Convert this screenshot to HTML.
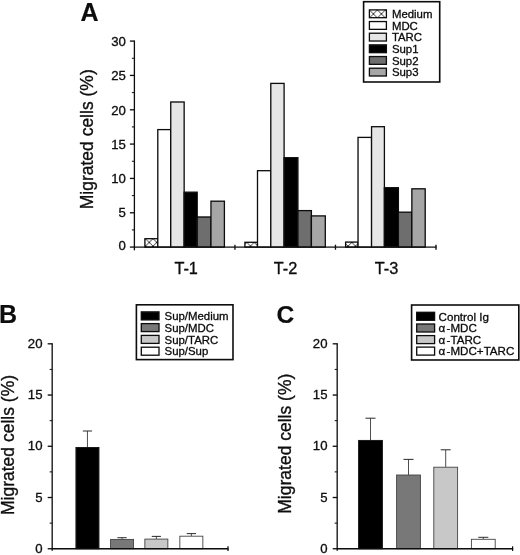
<!DOCTYPE html>
<html><head><meta charset="utf-8"><title>Figure</title>
<style>
html,body{margin:0;padding:0;background:#ffffff;}
body{width:520px;height:555px;overflow:hidden;font-family:"Liberation Sans",sans-serif;}
svg{display:block;}
</style></head><body>
<svg width="520" height="555" viewBox="0 0 520 555">
<defs>
<pattern id="hatch" patternUnits="userSpaceOnUse" width="7.5" height="7.5" x="145.5" y="238.65">
<rect width="7.5" height="7.5" fill="#ffffff"/>
<path d="M0 0L7.5 7.5M7.5 0L0 7.5" stroke="#000000" stroke-width="0.8"/>
</pattern>
<pattern id="hatch2" patternUnits="userSpaceOnUse" width="8" height="8" x="369.4" y="9.9">
<rect width="8" height="8" fill="#ffffff"/>
<path d="M0 0L8 8M8 0L0 8" stroke="#0a0a0a" stroke-width="0.8"/>
</pattern>
<filter id="soft" x="0" y="0" width="520" height="555" filterUnits="userSpaceOnUse"><feGaussianBlur stdDeviation="0.35"/></filter>
</defs>
<rect width="520" height="555" fill="#ffffff"/>
<g filter="url(#soft)">
<rect x="144.90" y="238.70" width="12.90" height="8.40" fill="url(#hatch)" stroke="#0a0a0a" stroke-width="1.3"/>
<rect x="157.80" y="129.60" width="12.95" height="117.50" fill="#ffffff" stroke="#0a0a0a" stroke-width="1.3"/>
<rect x="170.75" y="102.00" width="13.40" height="145.10" fill="#e6e6e6" stroke="#0a0a0a" stroke-width="1.3"/>
<rect x="184.15" y="192.20" width="13.05" height="54.90" fill="#050505" stroke="#0a0a0a" stroke-width="1.3"/>
<rect x="197.20" y="217.00" width="13.75" height="30.10" fill="#6e6e6e" stroke="#0a0a0a" stroke-width="1.3"/>
<rect x="210.95" y="201.20" width="13.45" height="45.90" fill="#a6a6a6" stroke="#0a0a0a" stroke-width="1.3"/>
<rect x="244.90" y="242.30" width="12.60" height="4.80" fill="url(#hatch)" stroke="#0a0a0a" stroke-width="1.3"/>
<rect x="257.50" y="170.70" width="13.30" height="76.40" fill="#ffffff" stroke="#0a0a0a" stroke-width="1.3"/>
<rect x="270.80" y="83.40" width="13.30" height="163.70" fill="#e6e6e6" stroke="#0a0a0a" stroke-width="1.3"/>
<rect x="284.10" y="157.70" width="13.80" height="89.40" fill="#050505" stroke="#0a0a0a" stroke-width="1.3"/>
<rect x="297.90" y="210.60" width="13.50" height="36.50" fill="#6e6e6e" stroke="#0a0a0a" stroke-width="1.3"/>
<rect x="311.40" y="215.90" width="13.90" height="31.20" fill="#a6a6a6" stroke="#0a0a0a" stroke-width="1.3"/>
<rect x="345.60" y="242.10" width="12.45" height="5.00" fill="url(#hatch)" stroke="#0a0a0a" stroke-width="1.3"/>
<rect x="358.05" y="137.40" width="13.50" height="109.70" fill="#ffffff" stroke="#0a0a0a" stroke-width="1.3"/>
<rect x="371.55" y="126.70" width="12.85" height="120.40" fill="#e6e6e6" stroke="#0a0a0a" stroke-width="1.3"/>
<rect x="384.40" y="187.70" width="14.00" height="59.40" fill="#050505" stroke="#0a0a0a" stroke-width="1.3"/>
<rect x="398.40" y="212.20" width="13.45" height="34.90" fill="#6e6e6e" stroke="#0a0a0a" stroke-width="1.3"/>
<rect x="411.85" y="188.80" width="13.35" height="58.30" fill="#a6a6a6" stroke="#0a0a0a" stroke-width="1.3"/>
<line x1="134.40" y1="40.50" x2="134.40" y2="250.30" stroke="#0a0a0a" stroke-width="1.3"/>
<line x1="133.80" y1="247.10" x2="436.60" y2="247.10" stroke="#0a0a0a" stroke-width="1.3"/>
<line x1="129.90" y1="247.10" x2="134.40" y2="247.10" stroke="#0a0a0a" stroke-width="1.3"/>
<line x1="129.90" y1="212.77" x2="134.40" y2="212.77" stroke="#0a0a0a" stroke-width="1.3"/>
<line x1="129.90" y1="178.43" x2="134.40" y2="178.43" stroke="#0a0a0a" stroke-width="1.3"/>
<line x1="129.90" y1="144.10" x2="134.40" y2="144.10" stroke="#0a0a0a" stroke-width="1.3"/>
<line x1="129.90" y1="109.77" x2="134.40" y2="109.77" stroke="#0a0a0a" stroke-width="1.3"/>
<line x1="129.90" y1="75.43" x2="134.40" y2="75.43" stroke="#0a0a0a" stroke-width="1.3"/>
<line x1="129.90" y1="41.10" x2="134.40" y2="41.10" stroke="#0a0a0a" stroke-width="1.3"/>
<line x1="131.90" y1="229.93" x2="134.40" y2="229.93" stroke="#0a0a0a" stroke-width="1.0"/>
<line x1="131.90" y1="195.60" x2="134.40" y2="195.60" stroke="#0a0a0a" stroke-width="1.0"/>
<line x1="131.90" y1="161.27" x2="134.40" y2="161.27" stroke="#0a0a0a" stroke-width="1.0"/>
<line x1="131.90" y1="126.93" x2="134.40" y2="126.93" stroke="#0a0a0a" stroke-width="1.0"/>
<line x1="131.90" y1="92.60" x2="134.40" y2="92.60" stroke="#0a0a0a" stroke-width="1.0"/>
<line x1="131.90" y1="58.27" x2="134.40" y2="58.27" stroke="#0a0a0a" stroke-width="1.0"/>
<line x1="234.93" y1="244.70" x2="234.93" y2="249.70" stroke="#0a0a0a" stroke-width="1.3"/>
<line x1="335.47" y1="244.70" x2="335.47" y2="249.70" stroke="#0a0a0a" stroke-width="1.3"/>
<line x1="436.00" y1="244.70" x2="436.00" y2="249.70" stroke="#0a0a0a" stroke-width="1.3"/>
<text x="125.90" y="250.20" font-size="13.2" text-anchor="end" font-weight="normal" font-family="Liberation Sans, sans-serif" fill="#0a0a0a" stroke="#0a0a0a" stroke-width="0.3" >0</text>
<text x="125.90" y="217.37" font-size="13.2" text-anchor="end" font-weight="normal" font-family="Liberation Sans, sans-serif" fill="#0a0a0a" stroke="#0a0a0a" stroke-width="0.3" >5</text>
<text x="125.90" y="182.63" font-size="13.2" text-anchor="end" font-weight="normal" font-family="Liberation Sans, sans-serif" fill="#0a0a0a" stroke="#0a0a0a" stroke-width="0.3" >10</text>
<text x="125.90" y="148.50" font-size="13.2" text-anchor="end" font-weight="normal" font-family="Liberation Sans, sans-serif" fill="#0a0a0a" stroke="#0a0a0a" stroke-width="0.3" >15</text>
<text x="125.90" y="114.72" font-size="13.2" text-anchor="end" font-weight="normal" font-family="Liberation Sans, sans-serif" fill="#0a0a0a" stroke="#0a0a0a" stroke-width="0.3" >20</text>
<text x="125.90" y="80.38" font-size="13.2" text-anchor="end" font-weight="normal" font-family="Liberation Sans, sans-serif" fill="#0a0a0a" stroke="#0a0a0a" stroke-width="0.3" >25</text>
<text x="125.90" y="45.90" font-size="13.2" text-anchor="end" font-weight="normal" font-family="Liberation Sans, sans-serif" fill="#0a0a0a" stroke="#0a0a0a" stroke-width="0.3" >30</text>
<text x="174.40" y="274.00" font-size="16.3" text-anchor="start" font-weight="normal" font-family="Liberation Sans, sans-serif" fill="#0a0a0a" stroke="#0a0a0a" stroke-width="0.3" >T-1</text>
<text x="273.80" y="274.00" font-size="16.3" text-anchor="start" font-weight="normal" font-family="Liberation Sans, sans-serif" fill="#0a0a0a" stroke="#0a0a0a" stroke-width="0.3" >T-2</text>
<text x="374.80" y="274.00" font-size="16.3" text-anchor="start" font-weight="normal" font-family="Liberation Sans, sans-serif" fill="#0a0a0a" stroke="#0a0a0a" stroke-width="0.3" >T-3</text>
<text x="0.00" y="0.00" font-size="17.5" text-anchor="middle" font-weight="normal" font-family="Liberation Sans, sans-serif" fill="#0a0a0a" stroke="#0a0a0a" stroke-width="0.3" transform="translate(93.0,139.3) rotate(-90)">Migrated cells (%)</text>
<text x="80.60" y="20.80" font-size="25" text-anchor="start" font-weight="bold" font-family="Liberation Sans, sans-serif" fill="#0a0a0a" stroke="#0a0a0a" stroke-width="0.15" >A</text>
<rect x="363.60" y="1.70" width="76.10" height="80.30" fill="#ffffff" stroke="#0a0a0a" stroke-width="1.6"/>
<rect x="369.40" y="9.90" width="17.00" height="7.80" fill="url(#hatch2)" stroke="#0a0a0a" stroke-width="1.3"/>
<text x="391.90" y="17.90" font-size="11.4" text-anchor="start" font-weight="normal" font-family="Liberation Sans, sans-serif" fill="#0a0a0a" stroke="#0a0a0a" stroke-width="0.3" >Medium</text>
<rect x="369.40" y="21.56" width="17.00" height="7.80" fill="#ffffff" stroke="#0a0a0a" stroke-width="1.3"/>
<text x="391.90" y="29.56" font-size="11.4" text-anchor="start" font-weight="normal" font-family="Liberation Sans, sans-serif" fill="#0a0a0a" stroke="#0a0a0a" stroke-width="0.3" >MDC</text>
<rect x="369.40" y="33.22" width="17.00" height="7.80" fill="#e6e6e6" stroke="#0a0a0a" stroke-width="1.3"/>
<text x="391.90" y="41.22" font-size="11.4" text-anchor="start" font-weight="normal" font-family="Liberation Sans, sans-serif" fill="#0a0a0a" stroke="#0a0a0a" stroke-width="0.3" >TARC</text>
<rect x="369.40" y="44.88" width="17.00" height="7.80" fill="#050505" stroke="#0a0a0a" stroke-width="1.3"/>
<text x="391.90" y="52.88" font-size="11.4" text-anchor="start" font-weight="normal" font-family="Liberation Sans, sans-serif" fill="#0a0a0a" stroke="#0a0a0a" stroke-width="0.3" >Sup1</text>
<rect x="369.40" y="56.54" width="17.00" height="7.80" fill="#6e6e6e" stroke="#0a0a0a" stroke-width="1.3"/>
<text x="391.90" y="64.54" font-size="11.4" text-anchor="start" font-weight="normal" font-family="Liberation Sans, sans-serif" fill="#0a0a0a" stroke="#0a0a0a" stroke-width="0.3" >Sup2</text>
<rect x="369.40" y="68.20" width="17.00" height="7.80" fill="#a6a6a6" stroke="#0a0a0a" stroke-width="1.3"/>
<text x="391.90" y="76.20" font-size="11.4" text-anchor="start" font-weight="normal" font-family="Liberation Sans, sans-serif" fill="#0a0a0a" stroke="#0a0a0a" stroke-width="0.3" >Sup3</text>
<line x1="87.45" y1="447.50" x2="87.45" y2="431.00" stroke="#303030" stroke-width="0.85"/>
<line x1="82.85" y1="431.00" x2="92.05" y2="431.00" stroke="#202020" stroke-width="0.95"/>
<rect x="75.95" y="447.50" width="23.00" height="101.25" fill="#050505" stroke="#0a0a0a" stroke-width="0.9"/>
<line x1="122.05" y1="539.40" x2="122.05" y2="537.70" stroke="#303030" stroke-width="0.85"/>
<line x1="117.45" y1="537.70" x2="126.65" y2="537.70" stroke="#202020" stroke-width="0.95"/>
<rect x="110.55" y="539.40" width="23.00" height="9.35" fill="#787878" stroke="#444444" stroke-width="0.9"/>
<line x1="156.35" y1="539.10" x2="156.35" y2="536.40" stroke="#303030" stroke-width="0.85"/>
<line x1="151.75" y1="536.40" x2="160.95" y2="536.40" stroke="#202020" stroke-width="0.95"/>
<rect x="144.85" y="539.10" width="23.00" height="9.65" fill="#c8c8c8" stroke="#444444" stroke-width="0.9"/>
<line x1="191.35" y1="536.20" x2="191.35" y2="533.60" stroke="#303030" stroke-width="0.85"/>
<line x1="186.75" y1="533.60" x2="195.95" y2="533.60" stroke="#202020" stroke-width="0.95"/>
<rect x="179.85" y="536.20" width="23.00" height="12.55" fill="#ffffff" stroke="#444444" stroke-width="0.9"/>
<line x1="52.20" y1="343.20" x2="52.20" y2="550.75" stroke="#0a0a0a" stroke-width="1.3"/>
<line x1="51.60" y1="548.75" x2="228.60" y2="548.75" stroke="#0a0a0a" stroke-width="1.3"/>
<line x1="228.00" y1="546.35" x2="228.00" y2="550.95" stroke="#0a0a0a" stroke-width="1.2"/>
<line x1="47.70" y1="548.75" x2="52.20" y2="548.75" stroke="#0a0a0a" stroke-width="1.3"/>
<text x="42.50" y="552.75" font-size="13.2" text-anchor="end" font-weight="normal" font-family="Liberation Sans, sans-serif" fill="#0a0a0a" stroke="#0a0a0a" stroke-width="0.3" >0</text>
<line x1="47.70" y1="497.51" x2="52.20" y2="497.51" stroke="#0a0a0a" stroke-width="1.3"/>
<text x="42.50" y="501.61" font-size="13.2" text-anchor="end" font-weight="normal" font-family="Liberation Sans, sans-serif" fill="#0a0a0a" stroke="#0a0a0a" stroke-width="0.3" >5</text>
<line x1="47.70" y1="446.27" x2="52.20" y2="446.27" stroke="#0a0a0a" stroke-width="1.3"/>
<text x="42.50" y="450.38" font-size="13.2" text-anchor="end" font-weight="normal" font-family="Liberation Sans, sans-serif" fill="#0a0a0a" stroke="#0a0a0a" stroke-width="0.3" >10</text>
<line x1="47.70" y1="395.04" x2="52.20" y2="395.04" stroke="#0a0a0a" stroke-width="1.3"/>
<text x="42.50" y="399.14" font-size="13.2" text-anchor="end" font-weight="normal" font-family="Liberation Sans, sans-serif" fill="#0a0a0a" stroke="#0a0a0a" stroke-width="0.3" >15</text>
<line x1="47.70" y1="343.80" x2="52.20" y2="343.80" stroke="#0a0a0a" stroke-width="1.3"/>
<text x="42.50" y="347.90" font-size="13.2" text-anchor="end" font-weight="normal" font-family="Liberation Sans, sans-serif" fill="#0a0a0a" stroke="#0a0a0a" stroke-width="0.3" >20</text>
<line x1="49.70" y1="523.13" x2="52.20" y2="523.13" stroke="#0a0a0a" stroke-width="1.0"/>
<line x1="49.70" y1="471.89" x2="52.20" y2="471.89" stroke="#0a0a0a" stroke-width="1.0"/>
<line x1="49.70" y1="420.66" x2="52.20" y2="420.66" stroke="#0a0a0a" stroke-width="1.0"/>
<line x1="49.70" y1="369.42" x2="52.20" y2="369.42" stroke="#0a0a0a" stroke-width="1.0"/>
<text x="0.00" y="0.00" font-size="17.5" text-anchor="middle" font-weight="normal" font-family="Liberation Sans, sans-serif" fill="#0a0a0a" stroke="#0a0a0a" stroke-width="0.3" transform="translate(13.7,445.0) rotate(-90)">Migrated cells (%)</text>
<text x="-0.90" y="322.90" font-size="25" text-anchor="start" font-weight="bold" font-family="Liberation Sans, sans-serif" fill="#0a0a0a" stroke="#0a0a0a" stroke-width="0.15" >B</text>
<rect x="136.40" y="304.80" width="96.60" height="54.80" fill="#ffffff" stroke="#0a0a0a" stroke-width="1.6"/>
<rect x="141.30" y="311.90" width="17.70" height="8.00" fill="#050505" stroke="#0a0a0a" stroke-width="1.3"/>
<text x="164.60" y="320.10" font-size="11.4" text-anchor="start" font-weight="normal" font-family="Liberation Sans, sans-serif" fill="#0a0a0a" stroke="#0a0a0a" stroke-width="0.3" >Sup/Medium</text>
<rect x="141.30" y="323.60" width="17.70" height="8.00" fill="#787878" stroke="#0a0a0a" stroke-width="1.3"/>
<text x="164.60" y="331.80" font-size="11.4" text-anchor="start" font-weight="normal" font-family="Liberation Sans, sans-serif" fill="#0a0a0a" stroke="#0a0a0a" stroke-width="0.3" >Sup/MDC</text>
<rect x="141.30" y="335.40" width="17.70" height="8.00" fill="#c8c8c8" stroke="#0a0a0a" stroke-width="1.3"/>
<text x="164.60" y="343.60" font-size="11.4" text-anchor="start" font-weight="normal" font-family="Liberation Sans, sans-serif" fill="#0a0a0a" stroke="#0a0a0a" stroke-width="0.3" >Sup/TARC</text>
<rect x="141.30" y="347.20" width="17.70" height="8.00" fill="#ffffff" stroke="#0a0a0a" stroke-width="1.3"/>
<text x="164.60" y="355.40" font-size="11.4" text-anchor="start" font-weight="normal" font-family="Liberation Sans, sans-serif" fill="#0a0a0a" stroke="#0a0a0a" stroke-width="0.3" >Sup/Sup</text>
<line x1="370.50" y1="440.40" x2="370.50" y2="418.20" stroke="#303030" stroke-width="0.85"/>
<line x1="365.50" y1="418.20" x2="375.50" y2="418.20" stroke="#202020" stroke-width="0.95"/>
<rect x="358.60" y="440.40" width="23.80" height="108.35" fill="#050505" stroke="#0a0a0a" stroke-width="0.9"/>
<line x1="408.50" y1="475.00" x2="408.50" y2="459.40" stroke="#303030" stroke-width="0.85"/>
<line x1="403.50" y1="459.40" x2="413.50" y2="459.40" stroke="#202020" stroke-width="0.95"/>
<rect x="396.60" y="475.00" width="23.80" height="73.75" fill="#787878" stroke="#444444" stroke-width="0.9"/>
<line x1="445.70" y1="467.20" x2="445.70" y2="449.80" stroke="#303030" stroke-width="0.85"/>
<line x1="440.70" y1="449.80" x2="450.70" y2="449.80" stroke="#202020" stroke-width="0.95"/>
<rect x="433.80" y="467.20" width="23.80" height="81.55" fill="#c8c8c8" stroke="#444444" stroke-width="0.9"/>
<line x1="483.30" y1="539.30" x2="483.30" y2="537.30" stroke="#303030" stroke-width="0.85"/>
<line x1="478.30" y1="537.30" x2="488.30" y2="537.30" stroke="#202020" stroke-width="0.95"/>
<rect x="471.40" y="539.30" width="23.80" height="9.45" fill="#ffffff" stroke="#444444" stroke-width="0.9"/>
<line x1="337.20" y1="343.20" x2="337.20" y2="550.75" stroke="#0a0a0a" stroke-width="1.3"/>
<line x1="336.60" y1="548.75" x2="513.20" y2="548.75" stroke="#0a0a0a" stroke-width="1.3"/>
<line x1="512.60" y1="546.35" x2="512.60" y2="550.95" stroke="#0a0a0a" stroke-width="1.2"/>
<line x1="332.70" y1="548.75" x2="337.20" y2="548.75" stroke="#0a0a0a" stroke-width="1.3"/>
<text x="327.50" y="552.75" font-size="13.2" text-anchor="end" font-weight="normal" font-family="Liberation Sans, sans-serif" fill="#0a0a0a" stroke="#0a0a0a" stroke-width="0.3" >0</text>
<line x1="332.70" y1="497.51" x2="337.20" y2="497.51" stroke="#0a0a0a" stroke-width="1.3"/>
<text x="327.50" y="501.61" font-size="13.2" text-anchor="end" font-weight="normal" font-family="Liberation Sans, sans-serif" fill="#0a0a0a" stroke="#0a0a0a" stroke-width="0.3" >5</text>
<line x1="332.70" y1="446.27" x2="337.20" y2="446.27" stroke="#0a0a0a" stroke-width="1.3"/>
<text x="327.50" y="450.38" font-size="13.2" text-anchor="end" font-weight="normal" font-family="Liberation Sans, sans-serif" fill="#0a0a0a" stroke="#0a0a0a" stroke-width="0.3" >10</text>
<line x1="332.70" y1="395.04" x2="337.20" y2="395.04" stroke="#0a0a0a" stroke-width="1.3"/>
<text x="327.50" y="399.14" font-size="13.2" text-anchor="end" font-weight="normal" font-family="Liberation Sans, sans-serif" fill="#0a0a0a" stroke="#0a0a0a" stroke-width="0.3" >15</text>
<line x1="332.70" y1="343.80" x2="337.20" y2="343.80" stroke="#0a0a0a" stroke-width="1.3"/>
<text x="327.50" y="347.90" font-size="13.2" text-anchor="end" font-weight="normal" font-family="Liberation Sans, sans-serif" fill="#0a0a0a" stroke="#0a0a0a" stroke-width="0.3" >20</text>
<line x1="334.70" y1="523.13" x2="337.20" y2="523.13" stroke="#0a0a0a" stroke-width="1.0"/>
<line x1="334.70" y1="471.89" x2="337.20" y2="471.89" stroke="#0a0a0a" stroke-width="1.0"/>
<line x1="334.70" y1="420.66" x2="337.20" y2="420.66" stroke="#0a0a0a" stroke-width="1.0"/>
<line x1="334.70" y1="369.42" x2="337.20" y2="369.42" stroke="#0a0a0a" stroke-width="1.0"/>
<text x="0.00" y="0.00" font-size="17.5" text-anchor="middle" font-weight="normal" font-family="Liberation Sans, sans-serif" fill="#0a0a0a" stroke="#0a0a0a" stroke-width="0.3" transform="translate(291.3,443.7) rotate(-90)">Migrated cells (%)</text>
<text x="276.40" y="323.30" font-size="24.6" text-anchor="start" font-weight="bold" font-family="Liberation Sans, sans-serif" fill="#0a0a0a" stroke="#0a0a0a" stroke-width="0.15" >C</text>
<rect x="411.60" y="305.00" width="107.20" height="55.00" fill="#ffffff" stroke="#0a0a0a" stroke-width="1.6"/>
<rect x="416.70" y="312.30" width="17.90" height="8.00" fill="#050505" stroke="#0a0a0a" stroke-width="1.3"/>
<text x="438.60" y="320.50" font-size="11.6" text-anchor="start" font-weight="normal" font-family="Liberation Sans, sans-serif" fill="#0a0a0a" stroke="#0a0a0a" stroke-width="0.3" >Control Ig</text>
<rect x="416.70" y="324.00" width="17.90" height="8.00" fill="#787878" stroke="#0a0a0a" stroke-width="1.3"/>
<text x="438.60" y="332.20" font-size="11.6" text-anchor="start" font-weight="normal" font-family="Liberation Sans, sans-serif" fill="#0a0a0a" stroke="#0a0a0a" stroke-width="0.3" >α<tspan dx="1.3">-MDC</tspan></text>
<rect x="416.70" y="335.60" width="17.90" height="8.00" fill="#c8c8c8" stroke="#0a0a0a" stroke-width="1.3"/>
<text x="438.60" y="343.80" font-size="11.6" text-anchor="start" font-weight="normal" font-family="Liberation Sans, sans-serif" fill="#0a0a0a" stroke="#0a0a0a" stroke-width="0.3" >α<tspan dx="1.3">-TARC</tspan></text>
<rect x="416.70" y="347.10" width="17.90" height="8.00" fill="#ffffff" stroke="#0a0a0a" stroke-width="1.3"/>
<text x="438.60" y="355.30" font-size="11.6" text-anchor="start" font-weight="normal" font-family="Liberation Sans, sans-serif" fill="#0a0a0a" stroke="#0a0a0a" stroke-width="0.3" >α<tspan dx="1.3">-MDC+TARC</tspan></text>
</g>
</svg>
</body></html>
